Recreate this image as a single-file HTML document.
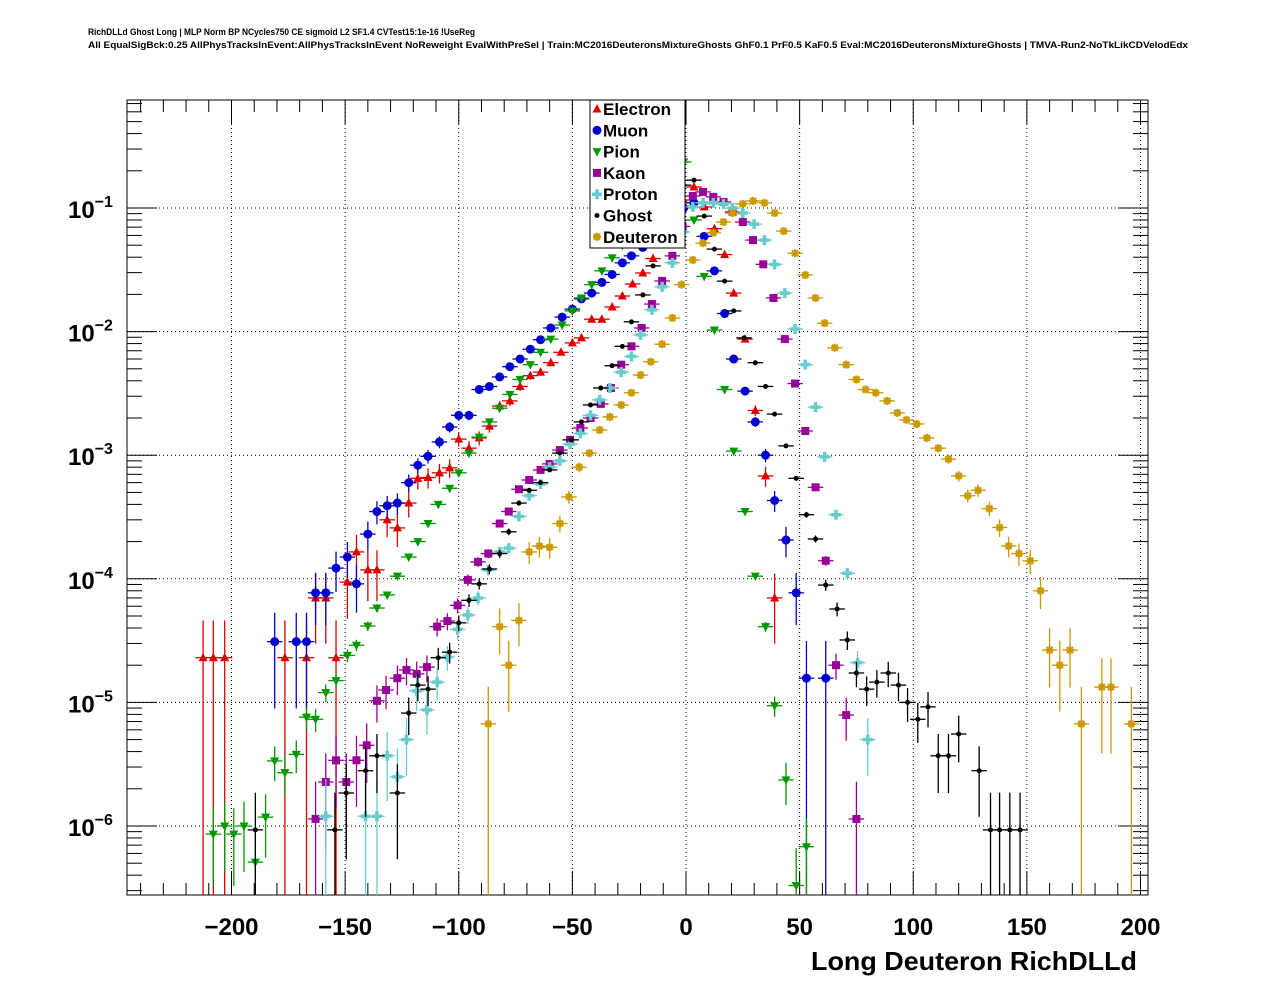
<!DOCTYPE html>
<html><head><meta charset="utf-8"><style>
body{margin:0;background:#fff;}
svg{display:block;font-family:"Liberation Sans",Arial,sans-serif;}
</style></head><body>
<svg id="c" width="1276" height="996" viewBox="0 0 1276 996" xmlns="http://www.w3.org/2000/svg">
<rect x="0" y="0" width="1276" height="996" fill="#fff"/>
<text x="88" y="35" font-size="9.5" font-weight="bold" textLength="387" lengthAdjust="spacingAndGlyphs">RichDLLd Ghost Long | MLP Norm BP NCycles750 CE sigmoid L2 SF1.4 CVTest15:1e-16 !UseReg</text>
<text x="88" y="48" font-size="9.5" font-weight="bold" textLength="1100" lengthAdjust="spacingAndGlyphs">All EqualSigBck:0.25 AllPhysTracksInEvent:AllPhysTracksInEvent NoReweight EvalWithPreSel | Train:MC2016DeuteronsMixtureGhosts GhF0.1 PrF0.5 KaF0.5 Eval:MC2016DeuteronsMixtureGhosts | TMVA-Run2-NoTkLikCDVelodEdx</text>
<g id="grid"></g>
<g id="axes"></g>
<g id="marks"></g>
<g id="legend"></g>
<text x="1137" y="970" font-size="26" font-weight="bold" text-anchor="end" textLength="326" lengthAdjust="spacingAndGlyphs">Long Deuteron RichDLLd</text>
</svg>
<script>
// ---- data (x = RichDLLd bin centre, value = normalised entries) ----
const electronX=[-212.5,-208,-203,-176.5,-167,-154,-163,-158.5,-149,-145,-140,-136,-131.5,-127,-122,-118,-113.5,-108.5,-104,-100,-95.5,-91,-86.5,-82,-77.5,-73,-68.5,-64,-59.5,-55,-50,-46,-41.5,-37,-32.5,-28,-23.5,-19,-14.5,-10,-5.5,-1,3.5,8,12.5,17,21,26,30.5,35,39];
const electronV=[2.3e-5,2.3e-5,2.3e-5,2.3e-5,2.3e-5,2.3e-5,7e-5,7e-5,9.4e-5,1.65e-4,1.18e-4,1.18e-4,3.0e-4,2.58e-4,4.1e-4,6.5e-4,6.6e-4,7.2e-4,7.9e-4,1.35e-3,1.14e-3,1.38e-3,1.72e-3,2.5e-3,2.75e-3,3.6e-3,4.4e-3,4.7e-3,5.6e-3,6.8e-3,8.1e-3,8.9e-3,1.26e-2,1.26e-2,1.58e-2,1.94e-2,2.43e-2,2.98e-2,3.9e-2,5.3e-2,7.7e-2,1.16e-1,1.48e-1,1.02e-1,6.8e-2,4.2e-2,2.05e-2,8.7e-3,2.3e-3,6.8e-4,7e-5];
const muonX=[-181,-171.5,-167,-163,-158.5,-154,-149,-145,-140,-136,-131.5,-127,-122,-118,-113.5,-108.5,-104,-100,-95.5,-91,-86.5,-82,-77.5,-73,-68.5,-64,-59.5,-54.5,-50,-46,-41.5,-37,-32.5,-28,-24,-19,-14.5,-10,-5.5,-1,3.5,8,12.5,17,21,26,30.5,35,39,44,48.5,53,61.5];
const muonV=[3.1e-5,3.1e-5,3.1e-5,7.7e-5,7.7e-5,1.22e-4,1.5e-4,9.1e-5,2.3e-4,3.5e-4,3.9e-4,4.1e-4,6.0e-4,8.3e-4,9.8e-4,1.28e-3,1.69e-3,2.1e-3,2.1e-3,3.4e-3,3.6e-3,4.3e-3,5.2e-3,6.0e-3,7.2e-3,8.6e-3,1.07e-2,1.31e-2,1.52e-2,1.84e-2,2.05e-2,2.5e-2,2.9e-2,3.6e-2,4.1e-2,4.8e-2,5.6e-2,6.9e-2,8.3e-2,1.0e-1,1.1e-1,5.9e-2,3.1e-2,1.4e-2,6e-3,3.3e-3,1.86e-3,1.0e-3,4.3e-4,2.06e-4,7.7e-5,1.57e-5,1.57e-5];
const pionX=[-208,-203,-199,-194.5,-189.5,-185,-181,-176.5,-171.5,-167,-163,-158.5,-154,-149,-145,-140,-136,-131.5,-127,-122,-118,-113.5,-109,-104,-100,-95.5,-91,-86.5,-82,-77.5,-73,-68.5,-64,-59.5,-54.5,-50,-46,-41.5,-37,-32.5,-28,-23.5,-19,-14.5,-10,-5.5,-1,3.5,8,12.5,17,21,26,30.5,35,39,44,48.5,53];
const pionV=[8.6e-7,1.0e-6,8.6e-7,1.0e-6,5.1e-7,1.18e-6,3.36e-6,2.7e-6,3.8e-6,7.6e-6,7.3e-6,1.2e-5,1.5e-5,2.4e-5,2.9e-5,4.15e-5,5.8e-5,7.4e-5,1.05e-4,1.5e-4,2.0e-4,2.8e-4,4.0e-4,5.4e-4,7.2e-4,1.04e-3,1.4e-3,1.86e-3,2.4e-3,3.1e-3,4.1e-3,5.4e-3,6.8e-3,8.7e-3,1.13e-2,1.47e-2,1.87e-2,2.4e-2,3.1e-2,3.95e-2,5.0e-2,6.4e-2,8.0e-2,1.02e-1,1.32e-1,1.75e-1,2.36e-1,8.0e-2,2.8e-2,1.03e-2,3.4e-3,1.08e-3,3.5e-4,1.05e-4,4.1e-5,9.4e-6,2.36e-6,3.3e-7,6.8e-7];
const kaonX=[-163,-158.5,-154,-149.5,-145,-140.5,-136,-132,-127,-123,-118.5,-114,-109.5,-105,-100.5,-96,-91.5,-87,-82,-78,-73.5,-69,-64,-60,-55.5,-51,-46.5,-42,-37.5,-33,-28.5,-24,-19.5,-15,-10.5,-6,-1.5,3,7.5,12,16.5,20.5,25,29.5,34,38.5,43.5,48,52.5,57,61.5,66,70.5,75];
const kaonV=[1.14e-6,2.27e-6,3.4e-6,2.27e-6,3.4e-6,4.5e-6,1.03e-5,1.26e-5,1.57e-5,1.83e-5,1.7e-5,1.93e-5,4.1e-5,4.55e-5,6.1e-5,9.8e-5,1.37e-4,1.6e-4,2.8e-4,3.5e-4,5.3e-4,6.3e-4,7.6e-4,8.5e-4,1.1e-3,1.33e-3,1.66e-3,2.0e-3,2.6e-3,3.5e-3,5.4e-3,7.6e-3,1.07e-2,1.67e-2,2.57e-2,4.1e-2,7.1e-2,1.25e-1,1.35e-1,1.23e-1,1.12e-1,9.3e-2,7.7e-2,5.5e-2,3.5e-2,1.87e-2,8.7e-3,3.8e-3,1.57e-3,5.5e-4,1.4e-4,2.0e-5,7.9e-6,1.14e-6];
const protonX=[-158.5,-141,-136,-131.5,-127,-123,-118.5,-114,-109.5,-105,-100.5,-96,-91.5,-87,-82,-78,-73.5,-69,-64,-60,-55.5,-51,-46.5,-42,-38,-33.5,-28.5,-24,-20,-15,-10.5,-6,-1.5,3,7.5,12,16.5,20.5,25,30,34.5,39,43.5,48,52.5,57,61,66,71,75.5,80];
const protonV=[1.2e-6,1.2e-6,1.2e-6,3.7e-6,2.5e-6,5.0e-6,1.24e-5,8.7e-6,1.46e-5,2.33e-5,3.9e-5,5.1e-5,7e-5,1.18e-4,1.65e-4,1.77e-4,3.2e-4,4.7e-4,5.85e-4,8.0e-4,9.0e-4,1.23e-3,1.5e-3,2.1e-3,2.8e-3,3.5e-3,4.7e-3,6.3e-3,9.4e-3,1.5e-2,2.3e-2,3.6e-2,6.4e-2,1.02e-1,1.1e-1,1.1e-1,1.08e-1,1.0e-1,9.1e-2,7.4e-2,5.5e-2,3.5e-2,2.05e-2,1.05e-2,5.4e-3,2.45e-3,9.7e-4,3.3e-4,1.11e-4,2.1e-5,5.0e-6];
const ghostX=[-189.5,-154.5,-149.5,-141,-136,-127,-122,-118,-113.5,-109,-104,-100,-95.5,-91,-86.5,-82,-78,-73.5,-69,-64,-60,-55.5,-50.5,-46,-42,-37.5,-32.5,-28,-24,-19,-14.5,-10,-5.5,-1,3.5,8,12.5,17,21,25.5,30.5,35,39,44,48.5,53,57,61.5,66.5,71,75,79.5,84,89,93.5,97.5,102,106.5,111,115.5,120,129,134,138,142.5,147];
const ghostV=[9.3e-7,9.3e-7,1.85e-6,2.8e-6,3.7e-6,1.85e-6,8.2e-6,1.38e-5,1.28e-5,2.3e-5,2.55e-5,4.4e-5,6.7e-5,9.1e-5,1.2e-4,1.6e-4,2.4e-4,4.1e-4,5.2e-4,6.0e-4,7.6e-4,1.04e-3,1.33e-3,1.86e-3,2.55e-3,3.5e-3,5.3e-3,7.6e-3,1.2e-2,1.98e-2,3.4e-2,5.7e-2,9.1e-2,1.53e-1,1.68e-1,8.6e-2,4.65e-2,2.56e-2,1.47e-2,8.9e-3,5.6e-3,3.6e-3,2.15e-3,1.19e-3,6.5e-4,3.3e-4,2.1e-4,8.9e-5,5.7e-5,3.2e-5,1.73e-5,1.28e-5,1.46e-5,1.73e-5,1.38e-5,1.0e-5,7.3e-6,9.2e-6,3.7e-6,3.7e-6,5.55e-6,2.8e-6,9.3e-7,9.3e-7,9.3e-7,9.3e-7];
const deuteronX=[-87,-82,-78,-73.5,-69,-64.5,-60,-55.5,-51.5,-47,-42.5,-38,-33.5,-28.5,-24,-20,-15.5,-10.5,-6,-2,3,7.5,12,16.5,20.5,25,29.5,34.5,39,43,48,52.5,57,61,65.5,70.5,75,79,83.5,88.5,93,97,101.5,106,111,115.5,120,124,128.5,133.5,138,142,146.5,151.5,156,160,164.5,169,174,183,187,196];
const deuteronV=[6.7e-6,4.1e-5,2.0e-5,4.6e-5,1.65e-4,1.84e-4,1.8e-4,2.8e-4,4.6e-4,8.0e-4,1.04e-3,1.6e-3,2.04e-3,2.55e-3,3.2e-3,4.45e-3,5.7e-3,7.9e-3,1.29e-2,2.4e-2,3.8e-2,5.2e-2,6.3e-2,7.7e-2,9.1e-2,1.08e-1,1.14e-1,1.1e-1,9.1e-2,6.5e-2,4.3e-2,2.87e-2,1.87e-2,1.17e-2,7.4e-3,5.4e-3,4.1e-3,3.4e-3,3.2e-3,2.75e-3,2.2e-3,1.93e-3,1.79e-3,1.38e-3,1.14e-3,9.3e-4,6.8e-4,4.7e-4,5.2e-4,3.7e-4,2.6e-4,1.84e-4,1.6e-4,1.4e-4,8.0e-5,2.65e-5,2.0e-5,2.65e-5,6.7e-6,1.33e-5,1.33e-5,6.7e-6];
const xTicks=[-200,-150,-100,-50,0,50,100,150,200];
const xTickLabels=["\u2212200","\u2212150","\u2212100","\u221250","0","50","100","150","200"];
const yDecades=[-1,-2,-3,-4,-5,-6];

// ---- layout ----
const L=127,R=1148,T=100,B=895;
const X0=686,XS=2.2725,Y1=208,DEC=123.6;
function sx(v){return X0+XS*v;}
function sy(v){return Y1-(Math.log10(v)+1)*DEC;}
const NS="http://www.w3.org/2000/svg";
function mk(tag,at,parent){const e=document.createElementNS(NS,tag);for(const k in at)e.setAttribute(k,at[k]);parent.appendChild(e);return e;}
const grid=document.getElementById('grid'),axes=document.getElementById('axes'),marks=document.getElementById('marks'),leg=document.getElementById('legend');

xTicks.forEach(t=>{const g=mk('line',{x1:sx(t),x2:sx(t),y1:T,y2:B,stroke:'#000','stroke-width':1,'stroke-dasharray':'1,3'},grid);

});
yDecades.forEach(d=>{const g=mk('line',{x1:L,x2:R,y1:sy(Math.pow(10,d)),y2:sy(Math.pow(10,d)),stroke:'#000','stroke-width':1,'stroke-dasharray':'1,3'},grid);

});

const fr=mk('rect',{x:L,y:T,width:R-L,height:B-T,fill:'none',stroke:'#000','stroke-width':1},axes);


for(let v=-240;v<=200;v+=10){const maj=(v%50===0);const len=maj?24:12;
mk('line',{x1:sx(v),x2:sx(v),y1:B,y2:B-len,stroke:'#000'},axes);
mk('line',{x1:sx(v),x2:sx(v),y1:T,y2:T+len,stroke:'#000'},axes);}
xTicks.forEach((t,i)=>{const tx=mk('text',{x:sx(t),y:935,'font-size':24,'font-weight':'bold','text-anchor':'middle'},axes);tx.textContent=xTickLabels[i];

});
for(let d=-7;d<=0;d++){for(let m=1;m<10;m++){const v=m*Math.pow(10,d);const y=sy(v);if(y<T||y>B)continue;const len=m===1?30:15;
mk('line',{x1:L,x2:L+len,y1:y,y2:y,stroke:'#000'},axes);mk('line',{x1:R,x2:R-len,y1:y,y2:y,stroke:'#000'},axes);}}
yDecades.forEach(d=>{const y=sy(Math.pow(10,d));const tx=mk('text',{x:68,y:y+10,'font-size':24,'font-weight':'bold'},axes);


tx.textContent='10';const s=mk('tspan',{dy:-11,'font-size':16},tx);s.textContent='\u2212'+(-d);});

const series=[
 {name:'Electron',x:electronX,v:electronV,col:'#dd0000',mk:'tri',w:2.3e-5},
 {name:'Muon',x:muonX,v:muonV,col:'#0000cc',mk:'circ',w:1.57e-5},
 {name:'Pion',x:pionX,v:pionV,col:'#009900',mk:'tridown',w:3.3e-7},
 {name:'Kaon',x:kaonX,v:kaonV,col:'#990099',mk:'sq',w:1.14e-6},
 {name:'Proton',x:protonX,v:protonV,col:'#66cccc',mk:'cross',w:1.2e-6},
 {name:'Ghost',x:ghostX,v:ghostV,col:'#000000',mk:'dot',w:9.3e-7},
 {name:'Deuteron',x:deuteronX,v:deuteronV,col:'#cc9900',mk:'star',w:6.7e-6}];
function marker(type,cx,cy,col,parent){
 if(type==='tri')return mk('polygon',{points:`${cx},${cy-5} ${cx-4.5},${cy+3.5} ${cx+4.5},${cy+3.5}`,fill:col},parent);
 if(type==='tridown')return mk('polygon',{points:`${cx},${cy+5} ${cx-4.5},${cy-3.5} ${cx+4.5},${cy-3.5}`,fill:col},parent);
 if(type==='circ')return mk('circle',{cx:cx,cy:cy,r:4.5,fill:col},parent);
 if(type==='sq')return mk('rect',{x:cx-4,y:cy-4,width:8,height:8,fill:col},parent);
 if(type==='cross')return mk('path',{d:`M${cx-5},${cy}H${cx+5}M${cx},${cy-5}V${cy+5}`,stroke:col,'stroke-width':3.5},parent);
 if(type==='dot')return mk('circle',{cx:cx,cy:cy,r:2.5,fill:col},parent);
 return mk('path',{d:`M${cx-4},${cy}H${cx+4}M${cx},${cy-4}V${cy+4}M${cx-3},${cy-3}L${cx+3},${cy+3}M${cx-3},${cy+3}L${cx+3},${cy-3}`,stroke:col,'stroke-width':2.2},parent);
}
series.forEach(s=>{
 const g=mk('g',{},marks);
 
 
 s.x.forEach((xv,i)=>{
  const v=s.v[i];const cx=sx(xv),cy=sy(v);
  const err=Math.sqrt(v*s.w);
  const yt=Math.max(T,sy(v+err));const lo=v-err;const yb=lo>0?Math.min(B,sy(lo)):B;
  mk('line',{x1:cx,x2:cx,y1:yt,y2:yb,stroke:s.col,'stroke-width':1.3},g);
  mk('line',{x1:sx(xv-3.4),x2:sx(xv+3.4),y1:cy,y2:cy,stroke:s.col,'stroke-width':1.3},g);
  const m=marker(s.mk,cx,cy,s.col,g);
  
  
 });
});

const lb=mk('rect',{x:590,y:100,width:95,height:148,fill:'#fff',stroke:'#000','stroke-width':1},leg);


series.forEach((s,i)=>{const y=109+i*21.3;
 const m=marker(s.mk,597,y,s.col,leg);
 
 
 const t=mk('text',{x:603,y:y+6,'font-size':17,'font-weight':'bold'},leg);t.textContent=s.name;
 
 
});
</script>
</body></html>
